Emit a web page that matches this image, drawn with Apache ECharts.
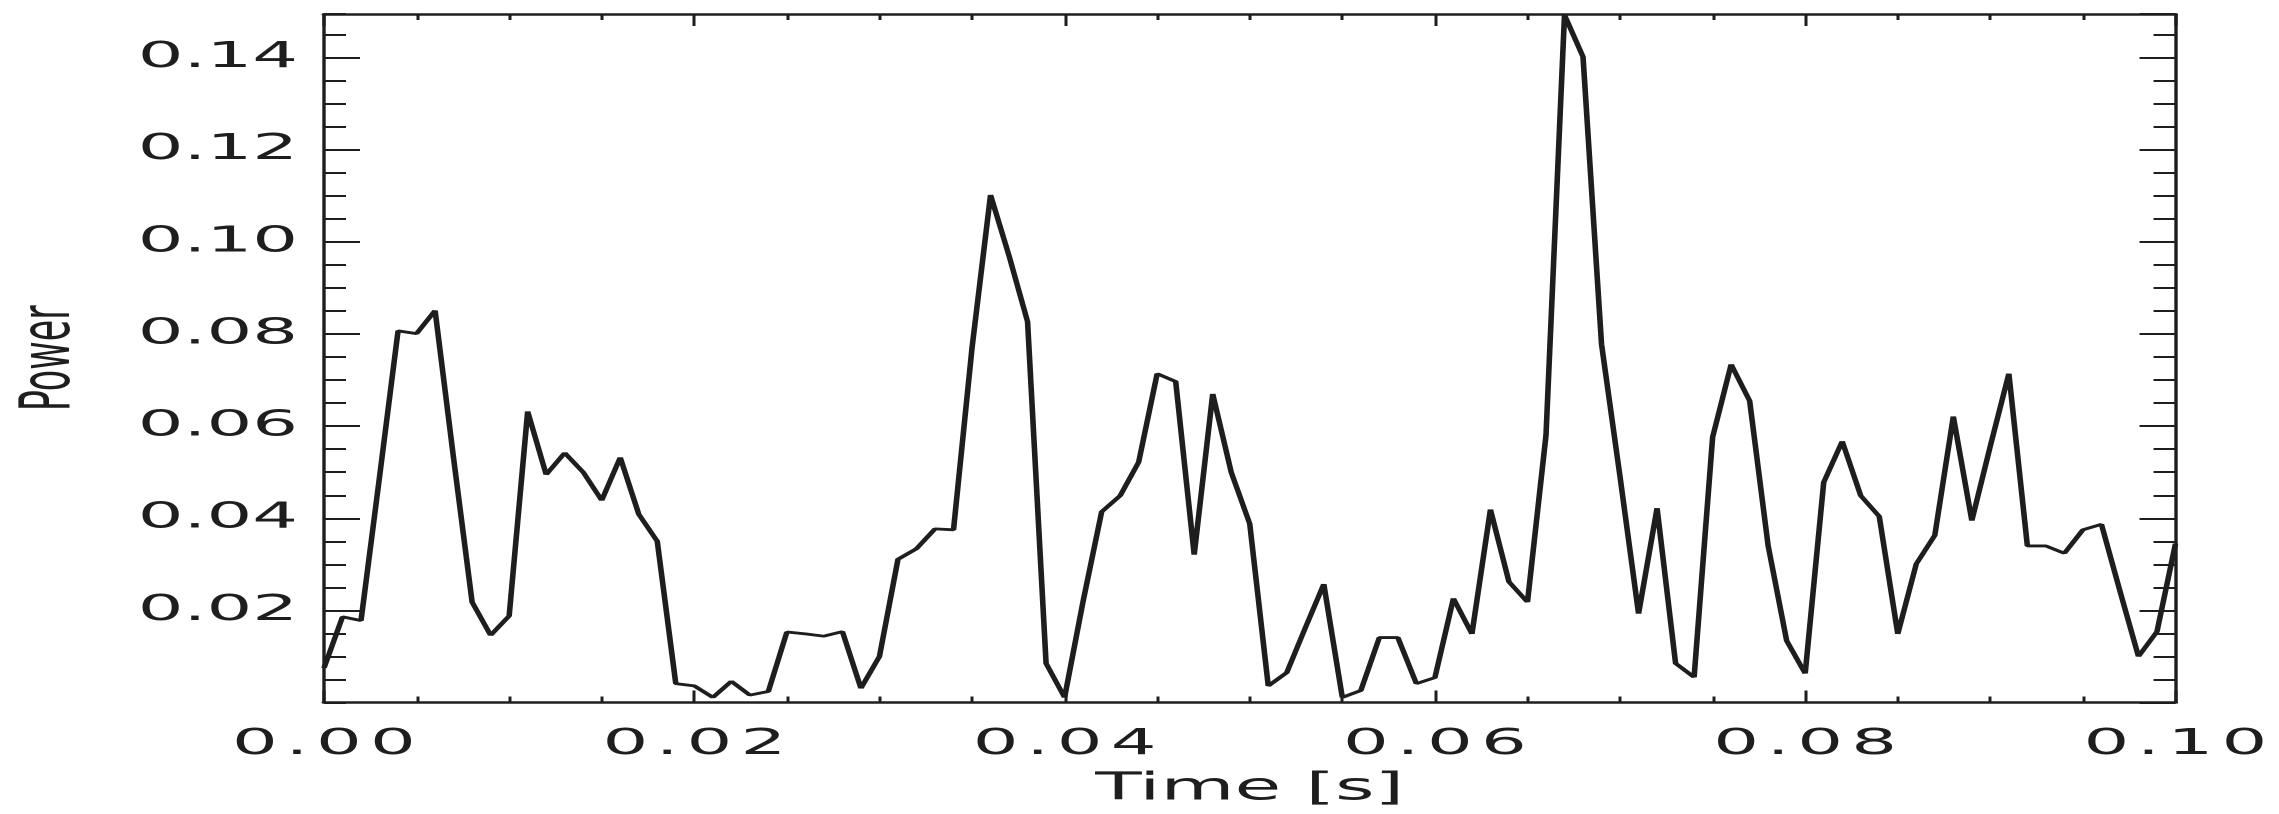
<!DOCTYPE html>
<html>
<head>
<meta charset="utf-8">
<script src="https://cdn.jsdelivr.net/npm/echarts@6/dist/echarts.min.js"></script>
<style>
html,body{margin:0;padding:0;background:#ffffff;overflow:hidden;}
#wrap{width:2279px;height:814px;overflow:hidden;background:#ffffff;}
#chart{width:1139.5px;height:814px;transform:scaleX(2);transform-origin:0 0;}
</style>
</head>
<body>
<div id="wrap"><div id="chart"></div></div>
<script>
// sample times [s]
const times = [
  0.000,0.001,0.002,0.003,0.004,0.005,0.006,0.007,0.008,0.009,
  0.010,0.011,0.012,0.013,0.014,0.015,0.016,0.017,0.018,0.019,
  0.020,0.021,0.022,0.023,0.024,0.025,0.026,0.027,0.028,0.029,
  0.030,0.031,0.032,0.033,0.034,0.035,0.036,0.037,0.038,0.039,
  0.040,0.041,0.042,0.043,0.044,0.045,0.046,0.047,0.048,0.049,
  0.050,0.051,0.052,0.053,0.054,0.055,0.056,0.057,0.058,0.059,
  0.060,0.061,0.062,0.063,0.064,0.065,0.066,0.067,0.068,0.069,
  0.070,0.071,0.072,0.073,0.074,0.075,0.076,0.077,0.078,0.079,
  0.080,0.081,0.082,0.083,0.084,0.085,0.086,0.087,0.088,0.089,
  0.090,0.091,0.092,0.093,0.094,0.095,0.096,0.097,0.098,0.099,
  0.100
];
// power values
const power = [
  0.0075,0.0186,0.0178,0.0490,0.0807,0.0801,0.0851,0.0530,0.0218,0.0146,
  0.0188,0.0632,0.0495,0.0542,0.0500,0.0439,0.0532,0.0409,0.0350,0.0041,
  0.0036,0.0011,0.0046,0.0016,0.0024,0.0153,0.0149,0.0144,0.0154,0.0031,
  0.0100,0.0311,0.0334,0.0377,0.0375,0.0770,0.1102,0.0970,0.0827,0.0085,
  0.0011,0.0220,0.0414,0.0449,0.0522,0.0714,0.0697,0.0321,0.0670,0.0500,
  0.0388,0.0036,0.0065,0.0162,0.0257,0.0011,0.0026,0.0141,0.0141,0.0041,
  0.0054,0.0226,0.0149,0.0419,0.0262,0.0218,0.0580,0.1493,0.1402,0.0778,
  0.0490,0.0193,0.0422,0.0085,0.0055,0.0576,0.0734,0.0655,0.0340,0.0134,
  0.0063,0.0478,0.0567,0.0449,0.0404,0.0149,0.0301,0.0363,0.0621,0.0395,
  0.0557,0.0714,0.0340,0.0340,0.0324,0.0375,0.0387,0.0242,0.0100,0.0154,
  0.0345
];
const xTickLabels = ['0.00','0.02','0.04','0.06','0.08','0.10'];
const yTickLabels = ['0.02','0.04','0.06','0.08','0.10','0.12','0.14'];

const X_MIN = 0, X_MAX = 0.1, X_INT = 0.02;
const Y_MIN = 0, Y_MAX = 0.1495, Y_INT = 0.02, Y_MINOR = 0.005;

const INK = '#1e1e1e';
const FONT = 'DejaVu Sans';

function spaced(s){
  return s.split('').map(c => c === '.' ? '{p|.}' : '{d|' + c + '}').join('');
}
function xFmt(v){
  const s = v.toFixed(2);
  return xTickLabels.indexOf(s) >= 0 ? spaced(s) : '';
}
function yFmt(v){
  const r = v / Y_INT;
  if (Math.abs(r - Math.round(r)) > 1e-6) return '';
  const s = v.toFixed(2);
  return yTickLabels.indexOf(s) >= 0 ? s : '';
}

function xAxisDef(pos, withLabels){
  return {
    type:'value', position:pos, min:X_MIN, max:X_MAX, interval:X_INT,
    axisLine:{show:true, onZero:false, lineStyle:{color:INK, width:2.5}},
    axisTick:{show:true, inside:true, length:12, lineStyle:{color:INK, width:1.5}},
    minorTick:{show:true, splitNumber:4, length:6, lineStyle:{color:INK, width:1.5}},
    splitLine:{show:false}, minorSplitLine:{show:false},
    axisLabel: withLabels ? {
      show:true, margin:24, fontSize:36, fontFamily:FONT, color:INK, formatter:xFmt,
      rich:{
        d:{fontSize:36, fontFamily:FONT, color:INK, width:27, align:'center'},
        p:{fontSize:36, fontFamily:FONT, color:INK, width:15, align:'center'}
      }
    } : {show:false},
    name: withLabels ? 'Time [s]' : '',
    nameLocation:'middle', nameGap:68,
    nameTextStyle:{fontSize:38, fontFamily:FONT, color:INK}
  };
}
function yAxisDef(pos, interval, len, withLabels, withLine){
  return {
    type:'value', position:pos, min:Y_MIN, max:Y_MAX, interval:interval,
    axisLine:{show:withLine, onZero:false, lineStyle:{color:INK, width:1.7}},
    axisTick:{show:true, inside:true, length:len, lineStyle:{color:INK, width:2}},
    splitLine:{show:false},
    axisLabel: withLabels ? {show:true, margin:13, fontSize:36, fontFamily:FONT, color:INK, formatter:yFmt, showMinLabel:false, showMaxLabel:false} : {show:false},
    name: withLabels ? 'Power' : '',
    nameLocation:'middle', nameGap:119, nameRotate:90,
    nameTextStyle:{fontSize:35, fontFamily:FONT, color:INK}
  };
}

const chart = echarts.init(document.getElementById('chart'), null, {renderer:'canvas', devicePixelRatio:2});
chart.setOption({
  animation:false,
  backgroundColor:'#ffffff',
  grid:{left:161.85, right:52.25, top:14, bottom:111.5, containLabel:false},
  xAxis:[ xAxisDef('bottom', true), xAxisDef('top', false) ],
  yAxis:[
    yAxisDef('left', Y_INT, 18, true, true),
    yAxisDef('left', Y_MINOR, 11, false, false),
    yAxisDef('right', Y_INT, 18, false, true),
    yAxisDef('right', Y_MINOR, 11, false, false)
  ],
  series:[{
    type:'line', xAxisIndex:0, yAxisIndex:0,
    data: times.map((t,i)=>[t, power[i]]),
    showSymbol:false, symbol:'none', clip:false,
    lineStyle:{color:INK, width:2.8}
  }]
});
</script>
</body>
</html>
